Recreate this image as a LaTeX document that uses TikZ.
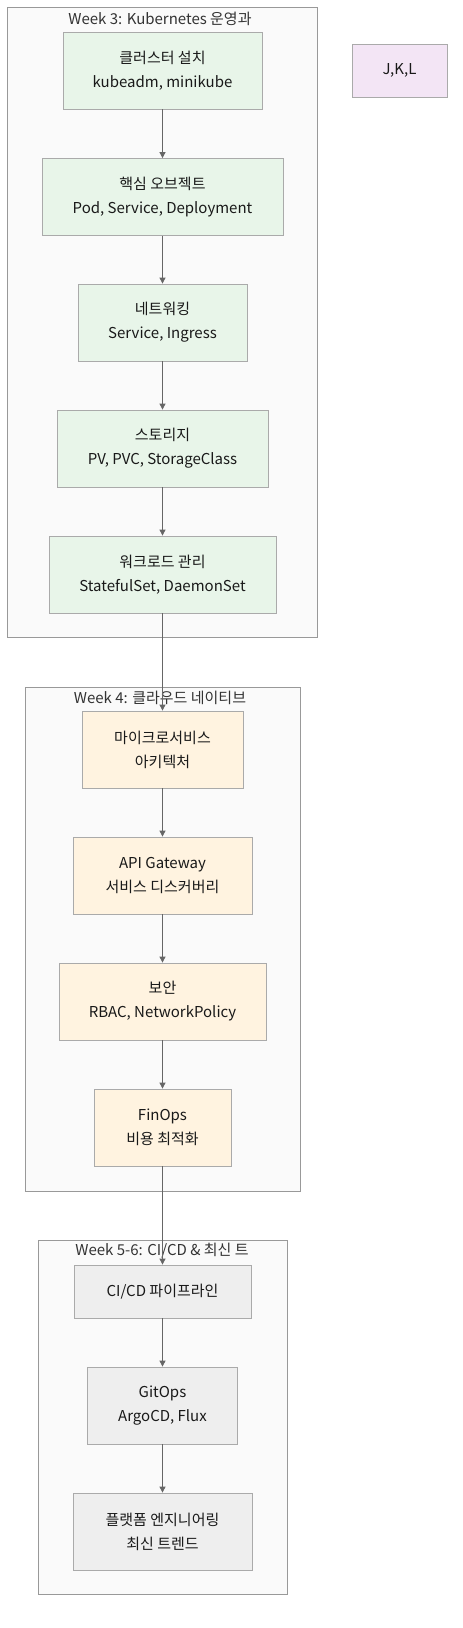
\documentclass[tikz,border=0pt]{standalone}
\usepackage{fontspec}
\setmainfont{Noto Sans CJK KR}
\usepackage{tikz}
\usetikzlibrary{arrows.meta,positioning}

\definecolor{weekgreen}{HTML}{E8F5E9}
\definecolor{weekorange}{HTML}{FFF3E0}
\definecolor{weekgray}{HTML}{EEEEEE}
\definecolor{weekpurple}{HTML}{F3E5F5}
\definecolor{boxline}{HTML}{AAAAAA}
\definecolor{clusterline}{HTML}{999999}
\definecolor{clusterfill}{HTML}{FAFAFA}
\definecolor{arrowline}{HTML}{666666}

\begin{document}
\begin{tikzpicture}[
        x=1pt,y=-1pt,
        every node/.style={draw=boxline,line width=0.8pt,align=center,inner sep=0pt,
            font=\fontsize{15}{24}\selectfont,text=black!90},
        green/.style={fill=weekgreen,minimum height=77pt},
        orange/.style={fill=weekorange,minimum height=77pt},
        gray/.style={fill=weekgray,minimum height=77pt},
        cluster/.style={draw=clusterline,fill=clusterfill,line width=0.8pt},
        title/.style={draw=none,text=black!80},
        >={Triangle[length=6pt,width=6pt]}
    ]
        \useasboundingbox (0,0) rectangle (463,1628);

        % 클러스터
        \draw [cluster] (7,7) rectangle (317,637);
        \draw [cluster] (25,687) rectangle (300,1191);
        \draw [cluster] (38,1240) rectangle (287,1594);
        \node [title] (t3) at (160,19) {Week 3: Kubernetes 운영과};
        \node [title] (t4) at (160,698) {Week 4: 클라우드 네이티브};
        \node [title] (t5) at (162,1251) {Week 5-6: CI/CD \& 최신 트};

        % Week 3 노드
        \node [green,minimum width=199pt] (N1) at (162.5,70.5) {클러스터 설치\\kubeadm, minikube};
        \node [green,minimum width=241pt] (N2) at (162.5,197) {핵심 오브젝트\\Pod, Service, Deployment};
        \node [green,minimum width=169pt] (N3) at (162.5,322.5) {네트워킹\\Service, Ingress};
        \node [green,minimum width=211pt] (N4) at (162.5,448.5) {스토리지\\PV, PVC, StorageClass};
        \node [green,minimum width=227pt] (N5) at (162.5,574.5) {워크로드 관리\\StatefulSet, DaemonSet};

        % Week 4 노드
        \node [orange,minimum width=161pt] (M1) at (162.5,749.5) {마이크로서비스\\아키텍처};
        \node [orange,minimum width=179pt] (M2) at (162.5,875.5) {API Gateway\\서비스 디스커버리};
        \node [orange,minimum width=207pt] (M3) at (162.5,1001.5) {보안\\RBAC, NetworkPolicy};
        \node [orange,minimum width=137pt] (M4) at (162.5,1127.5) {FinOps\\비용 최적화};

        % Week 5-6 노드
        \node [gray,minimum width=177pt,minimum height=53pt] (C1) at (162.5,1291.5) {CI/CD 파이프라인};
        \node [gray,minimum width=150pt] (C2) at (162.5,1405.5) {GitOps\\ArgoCD, Flux};
        \node [gray,minimum width=179pt] (C3) at (162.5,1531.5) {플랫폼 엔지니어링\\최신 트렌드};

        \node [fill=weekpurple,minimum width=95pt,minimum height=53pt] (JKL) at (399.5,70.5) {J,K,L};

        % 연결
        \foreach \a/\b in {N1/N2,N2/N3,N3/N4,N4/N5,N5/M1,M1/M2,M2/M3,M3/M4,M4/C1,C1/C2,C2/C3}
            \draw [->,arrowline,line width=0.8pt] (\a) -- (\b);

    \end{tikzpicture}
\end{document}
